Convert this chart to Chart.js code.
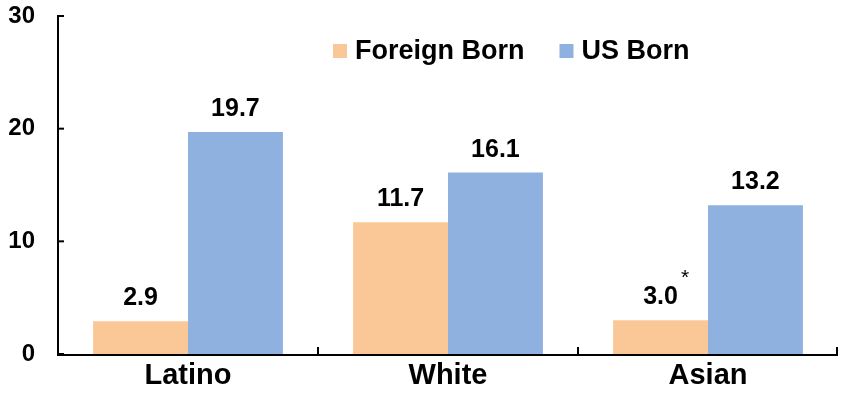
<!DOCTYPE html>
<html>
<head>
<meta charset="utf-8">
<script src="https://cdn.jsdelivr.net/npm/chart.js@4"></script>
<style>
html,body{margin:0;padding:0;background:#fff;}
#wrap{width:850px;height:395px;position:relative;}
</style>
</head>
<body>
<div id="wrap"><canvas id="c" width="850" height="395"></canvas></div>
<script>
const categories = ["Latino", "White", "Asian"];
const foreignBorn = [2.9, 11.7, 3.0];
const usBorn = [19.7, 16.1, 13.2];
const foreignNotes = ["", "", "*"];
const usNotes = ["", "", ""];
const seriesNames = ["Foreign Born", "US Born"];
const yTicks = [0, 10, 20, 30];

const ORANGE = "#FAC896";
const BLUE = "#8EB1E0";
const FONT = "Arial, 'Liberation Sans', sans-serif";

const axesPlugin = {
  id: "axesPlugin",
  afterDatasetsDraw(chart) {
    const ctx = chart.ctx;
    const ca = chart.chartArea;
    const y = chart.scales.y, x = chart.scales.x;
    ctx.save();
    ctx.strokeStyle = "#000";
    ctx.lineWidth = 2;
    ctx.beginPath();
    ctx.moveTo(ca.left, y.getPixelForValue(30) - 1);
    ctx.lineTo(ca.left, y.getPixelForValue(0) + 1);
    ctx.lineTo(ca.right, y.getPixelForValue(0) + 1);
    ctx.stroke();
    yTicks.forEach(v => {
      const py = y.getPixelForValue(v);
      ctx.beginPath();
      ctx.moveTo(ca.left, py);
      ctx.lineTo(ca.left + 6, py);
      ctx.stroke();
    });
    for (let i = 1; i <= categories.length; i++) {
      const px = (x.getPixelForValue(i - 1) + x.getPixelForValue(i)) / 2;
      const edge = i === categories.length ? ca.right - 1 : px;
      ctx.beginPath();
      ctx.moveTo(edge, y.getPixelForValue(0));
      ctx.lineTo(edge, y.getPixelForValue(0) - 7);
      ctx.stroke();
    }
    // data labels
    ctx.fillStyle = "#000";
    ctx.textAlign = "center";
    ctx.textBaseline = "alphabetic";
    const notes = [foreignNotes, usNotes];
    chart.data.datasets.forEach((ds, di) => {
      const meta = chart.getDatasetMeta(di);
      meta.data.forEach((bar, i) => {
        const txt = ds.data[i].toFixed(1);
        ctx.font = "bold 25px " + FONT;
        ctx.fillText(txt, bar.x, bar.y - 16);
        if (notes[di][i]) {
          const w = ctx.measureText(txt).width;
          ctx.font = "21px " + FONT;
          ctx.textAlign = "left";
          ctx.fillText(notes[di][i], bar.x + w / 2 + 3, bar.y - 36);
          ctx.textAlign = "center";
        }
      });
    });
    // legend
    ctx.font = "bold 27px " + FONT;
    ctx.textAlign = "left";
    ctx.textBaseline = "middle";
    const ly = 51;
    let lx = 333;
    const cols = [ORANGE, BLUE];
    seriesNames.forEach((n, i) => {
      ctx.fillStyle = cols[i];
      ctx.fillRect(lx, ly - 7, 14, 14);
      ctx.fillStyle = "#000";
      ctx.fillText(n, lx + 22, ly + 1);
      lx += 22 + ctx.measureText(n).width + 35;
    });
    ctx.restore();
  }
};

new Chart(document.getElementById("c"), {
  type: "bar",
  data: {
    labels: categories,
    datasets: [
      { label: seriesNames[0], data: foreignBorn, backgroundColor: ORANGE, categoryPercentage: 0.73, barPercentage: 1.0 },
      { label: seriesNames[1], data: usBorn, backgroundColor: BLUE, categoryPercentage: 0.73, barPercentage: 1.0 }
    ]
  },
  options: {
    responsive: false,
    animation: false,
    devicePixelRatio: 1,
    layout: { padding: { left: 0, right: 12, top: 16, bottom: 0 } },
    plugins: { legend: { display: false }, tooltip: { enabled: false } },
    scales: {
      x: {
        grid: { display: false, drawTicks: false },
        border: { display: false },
        ticks: { color: "#000", font: { family: FONT, size: 29, weight: "bold" }, padding: 5 },
        afterFit(s) { s.height = 41; s.paddingLeft = 0; s.paddingRight = 0; }
      },
      y: {
        min: 0, max: 30,
        afterBuildTicks(s) { s.ticks = yTicks.map(v => ({ value: v })); },
        grid: { display: false, drawTicks: false },
        border: { display: false },
        ticks: { color: "#000", font: { family: FONT, size: 24, weight: "bold" }, padding: 23 },
        afterFit(s) { s.width = 58; s.paddingTop = 0; s.paddingBottom = 0; }
      }
    }
  },
  plugins: [axesPlugin]
});
</script>
</body>
</html>
